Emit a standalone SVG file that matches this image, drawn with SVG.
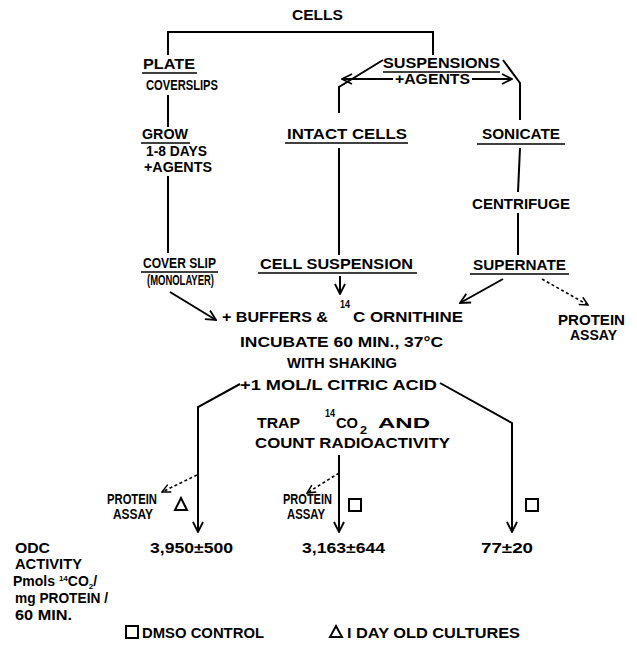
<svg xmlns="http://www.w3.org/2000/svg" width="637" height="650" viewBox="0 0 637 650">
<defs>
<style>
.t{font-family:"Liberation Sans",Arial,Helvetica,sans-serif;font-weight:bold;font-size:14px;fill:#000}
.sup{font-size:10px}
.ln{fill:none;stroke:#000;stroke-width:2}
.ul{fill:none;stroke:#000;stroke-width:1.6}
.dash{fill:none;stroke:#000;stroke-width:1.6;stroke-dasharray:3 2.5}
.sym{fill:none;stroke:#000;stroke-width:2}
</style>
<marker id="ah" viewBox="0 0 12 12" refX="11" refY="6" markerWidth="12" markerHeight="12" markerUnits="userSpaceOnUse" orient="auto">
<path d="M1,1 L11,6 L1,11" fill="none" stroke="#000" stroke-width="1.8"/>
</marker>
<marker id="ahd" viewBox="0 0 12 12" refX="11" refY="6" markerWidth="10" markerHeight="10" markerUnits="userSpaceOnUse" orient="auto">
<path d="M1,1 L11,6 L1,11" fill="none" stroke="#000" stroke-width="1.8"/>
</marker>
</defs>
<rect width="637" height="650" fill="#fff"/>

<g id="connectors">
<path class="ln" d="M168,55 V32 H433 V55"/>
<path class="ln" d="M168,95 V127"/>
<path class="ln" d="M168,176 V253"/>
<path class="ln" d="M383,60 L339,87 V113"/>
<path class="ln" d="M339,148 V255"/>
<path class="ln" d="M503,60 L520,83 V120"/>
<path class="ln" d="M520,148 L518,192"/>
<path class="ln" d="M518,213 V255"/>
<path class="ln" d="M393,79 H342" marker-end="url(#ah)"/>
<path class="ln" d="M472,79 H512" marker-end="url(#ah)"/>
<path class="ln" d="M170,292 L216,320" marker-end="url(#ah)"/>
<path class="ln" d="M340,276 V294" marker-end="url(#ah)"/>
<path class="ln" d="M503,279 L460,303" marker-end="url(#ah)"/>
<path class="dash" d="M542,279 L588,305" marker-end="url(#ahd)"/>
<path class="ln" d="M240,384 L198,407 V532" marker-end="url(#ah)"/>
<path class="ln" d="M440,383 L512,423 V532" marker-end="url(#ah)"/>
<path class="ln" d="M339,455 V532" marker-end="url(#ah)"/>
<path class="dash" d="M197,475 L162,492" marker-end="url(#ahd)"/>
<path class="dash" d="M339,473 L307,493" marker-end="url(#ahd)"/>
</g>

<g id="cells"><text class="t" x="292" y="20" font-size="15" textLength="51" lengthAdjust="spacingAndGlyphs">CELLS</text></g>

<g id="plate">
<text class="t" x="143" y="69" font-size="15" textLength="52" lengthAdjust="spacingAndGlyphs">PLATE</text>
<line class="ul" x1="142" y1="73" x2="197" y2="73"/>
<text class="t" x="146" y="90" textLength="72" lengthAdjust="spacingAndGlyphs">COVERSLIPS</text>
</g>

<g id="grow">
<text class="t" x="142" y="139" font-size="15" textLength="46" lengthAdjust="spacingAndGlyphs">GROW</text>
<line class="ul" x1="141" y1="143" x2="190" y2="143"/>
<text class="t" x="146" y="156" font-size="12" textLength="61" lengthAdjust="spacingAndGlyphs">1-8 DAYS</text>
<text class="t" x="144" y="172" font-size="12" textLength="68" lengthAdjust="spacingAndGlyphs">+AGENTS</text>
</g>

<g id="coverslip">
<text class="t" x="143" y="268" textLength="73" lengthAdjust="spacingAndGlyphs">COVER SLIP</text>
<line class="ul" x1="141" y1="272" x2="218" y2="272"/>
<text class="t" x="147" y="285" font-size="12" textLength="67" lengthAdjust="spacingAndGlyphs">(MONOLAYER)</text>
</g>

<g id="suspensions">
<text class="t" x="383" y="68" textLength="117" lengthAdjust="spacingAndGlyphs">SUSPENSIONS</text>
<line class="ul" x1="383" y1="72" x2="500" y2="72"/>
</g>

<g id="agents"><text class="t" x="395" y="84" font-size="13" textLength="75" lengthAdjust="spacingAndGlyphs">+AGENTS</text></g>

<g id="intact-cells">
<text class="t" x="287" y="139" font-size="15" textLength="120" lengthAdjust="spacingAndGlyphs">INTACT  CELLS</text>
<line class="ul" x1="285" y1="143" x2="408" y2="143"/>
</g>

<g id="sonicate">
<text class="t" x="482" y="139" textLength="78" lengthAdjust="spacingAndGlyphs">SONICATE</text>
<line class="ul" x1="477" y1="144" x2="565" y2="144"/>
</g>

<g id="centrifuge"><text class="t" x="472" y="209" textLength="98" lengthAdjust="spacingAndGlyphs">CENTRIFUGE</text></g>

<g id="cell-suspension">
<text class="t" x="260" y="269" font-size="15" textLength="153" lengthAdjust="spacingAndGlyphs">CELL  SUSPENSION</text>
<line class="ul" x1="258" y1="273" x2="417" y2="273"/>
</g>

<g id="supernate">
<text class="t" x="473" y="270" textLength="93" lengthAdjust="spacingAndGlyphs">SUPERNATE</text>
<line class="ul" x1="470" y1="274" x2="569" y2="274"/>
</g>

<g id="protein-assay-right">
<text class="t" x="558" y="325" font-size="13" textLength="67" lengthAdjust="spacingAndGlyphs">PROTEIN</text>
<text class="t" x="570" y="340" font-size="13" textLength="47" lengthAdjust="spacingAndGlyphs">ASSAY</text>
</g>

<g id="incubation">
<text class="t" x="222" y="322" font-size="15" textLength="106" lengthAdjust="spacingAndGlyphs">+ BUFFERS &amp;</text>
<text class="t sup" x="340" y="308" textLength="10" lengthAdjust="spacingAndGlyphs">14</text>
<text class="t" x="353" y="322" font-size="15" textLength="110" lengthAdjust="spacingAndGlyphs">C  ORNITHINE</text>
<text class="t" x="240" y="347" font-size="15" textLength="203" lengthAdjust="spacingAndGlyphs">INCUBATE 60 MIN., 37°C</text>
<text class="t" x="287" y="368" font-size="15" textLength="110" lengthAdjust="spacingAndGlyphs">WITH SHAKING</text>
<text class="t" x="240" y="390" font-size="15" textLength="197" lengthAdjust="spacingAndGlyphs">+1 MOL/L  CITRIC  ACID</text>
</g>

<g id="trap">
<text class="t" x="257" y="428" textLength="43" lengthAdjust="spacingAndGlyphs">TRAP</text>
<text class="t sup" x="325" y="417" textLength="10" lengthAdjust="spacingAndGlyphs">14</text>
<text class="t" x="336" y="428" textLength="22" lengthAdjust="spacingAndGlyphs">CO</text>
<text class="t sup" x="360" y="434" textLength="7" lengthAdjust="spacingAndGlyphs">2</text>
<text class="t" x="378" y="428" textLength="52" lengthAdjust="spacingAndGlyphs">AND</text>
<text class="t" x="255" y="448" textLength="195" lengthAdjust="spacingAndGlyphs">COUNT  RADIOACTIVITY</text>
</g>

<g id="protein-assay-left">
<text class="t" x="107" y="504" font-size="10" textLength="50" lengthAdjust="spacingAndGlyphs">PROTEIN</text>
<text class="t" x="113" y="519" font-size="10" textLength="40" lengthAdjust="spacingAndGlyphs">ASSAY</text>
<path class="sym" d="M181,498 L187,510 L175,510 Z"/>
</g>

<g id="protein-assay-middle">
<text class="t" x="283" y="504" font-size="10" textLength="49" lengthAdjust="spacingAndGlyphs">PROTEIN</text>
<text class="t" x="287" y="519" font-size="10" textLength="38" lengthAdjust="spacingAndGlyphs">ASSAY</text>
<rect class="sym" x="349" y="499" width="12" height="12"/>
</g>

<g id="dmso-right"><rect class="sym" x="526" y="499" width="12" height="12"/></g>

<g id="result-1"><text class="t" x="150" y="553" font-size="15" textLength="83" lengthAdjust="spacingAndGlyphs">3,950±500</text></g>
<g id="result-2"><text class="t" x="302" y="553" font-size="15" textLength="83" lengthAdjust="spacingAndGlyphs">3,163±644</text></g>
<g id="result-3"><text class="t" x="481" y="553" font-size="15" textLength="52" lengthAdjust="spacingAndGlyphs">77±20</text></g>

<g id="odc-label">
<text class="t" x="15" y="553" font-size="12" textLength="35" lengthAdjust="spacingAndGlyphs">ODC</text>
<text class="t" x="15" y="569" font-size="12" textLength="67" lengthAdjust="spacingAndGlyphs">ACTIVITY</text>
<text class="t" x="13" y="586" font-size="12">Pmols <tspan font-size="8" dy="-5">14</tspan><tspan dy="5">CO</tspan><tspan font-size="8" dy="3">2</tspan><tspan dy="-3">/</tspan></text>
<text class="t" x="15" y="603" font-size="12" textLength="93" lengthAdjust="spacingAndGlyphs">mg PROTEIN /</text>
<text class="t" x="15" y="620" font-size="12" textLength="57" lengthAdjust="spacingAndGlyphs">60 MIN.</text>
</g>

<g id="legend">
<rect class="sym" x="126" y="626" width="12" height="12"/>
<text class="t" x="142" y="638" font-size="15" textLength="122" lengthAdjust="spacingAndGlyphs">DMSO  CONTROL</text>
<path class="sym" d="M336,626 L342,637 L330,637 Z"/>
<text class="t" x="347" y="638" font-size="15" textLength="173" lengthAdjust="spacingAndGlyphs">I DAY OLD CULTURES</text>
</g>
</svg>
